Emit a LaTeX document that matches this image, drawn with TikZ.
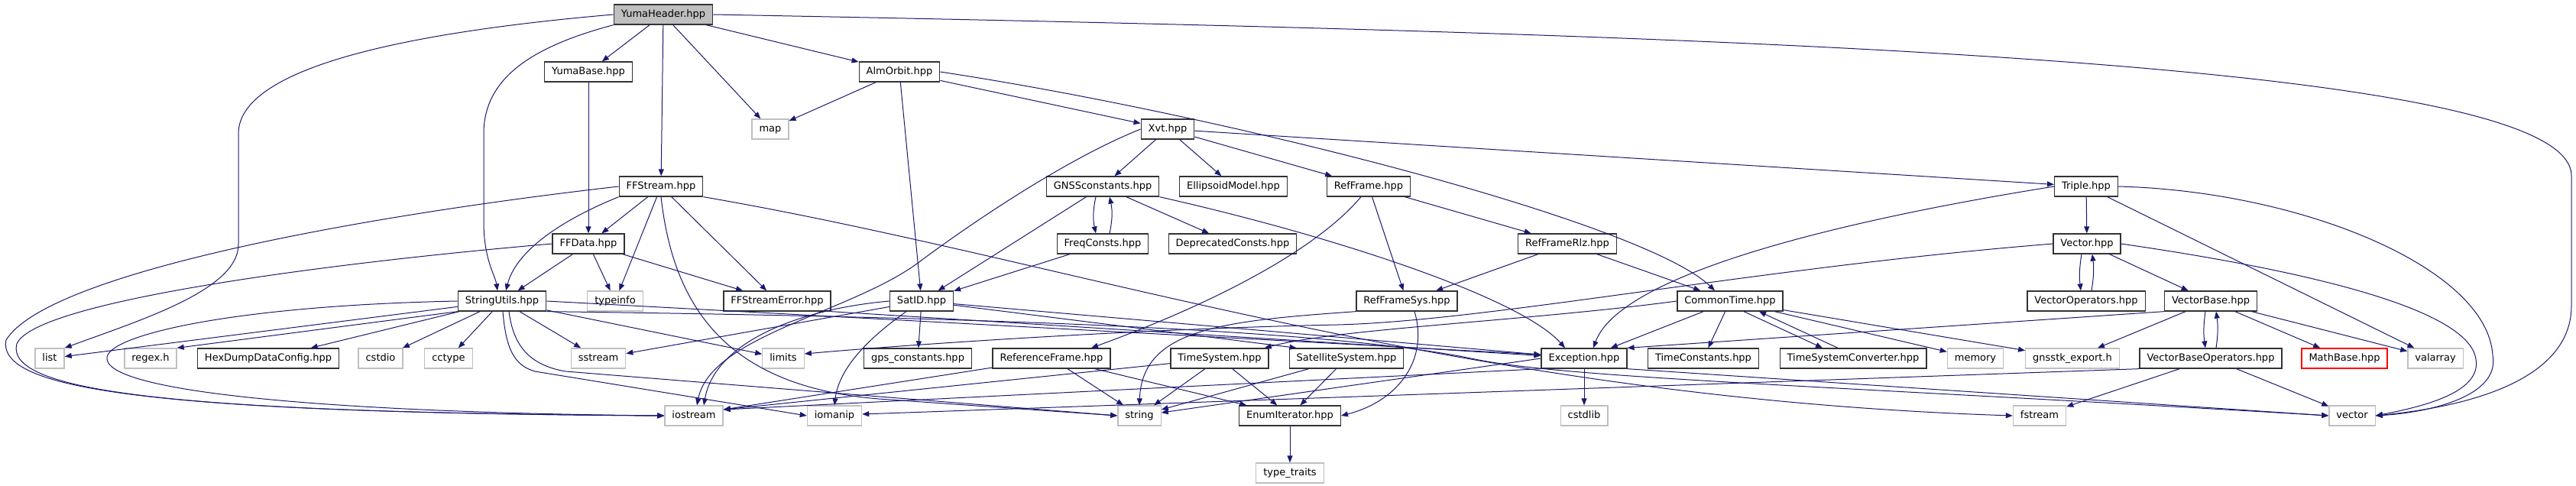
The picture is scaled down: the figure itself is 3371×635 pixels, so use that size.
\documentclass[tikz,border=0pt]{standalone}
\usepackage{fontspec}
\setmainfont{DejaVu Sans}
\usetikzlibrary{arrows.meta}
\definecolor{edgeblue}{HTML}{191970}
\definecolor{boxgrey}{HTML}{BFBFBF}

\begin{document}
\begin{tikzpicture}[x=1pt,y=-1pt,
  hdr/.style={draw=black!80,line width=1.3pt,fill=white,minimum height=26pt,inner xsep=9.5pt,inner ysep=0pt,
    font=\fontsize{13}{15}\selectfont,text height=9.5pt,text depth=2.5pt},
  sys/.style={hdr,draw=boxgrey},
  root/.style={hdr,fill=boxgrey},
  nodoc/.style={hdr,draw=red},
  dep/.style={draw=edgeblue,line width=1pt,-{Triangle[length=9pt,width=7pt]}}]
  \useasboundingbox (0,0) rectangle (3371,635);

  \node[root] (yh) at (868,19) {YumaHeader.hpp};
  \node[hdr] (yb) at (770,94) {YumaBase.hpp};
  \node[hdr] (alm) at (1177,94) {AlmOrbit.hpp};
  \node[sys] (map) at (1008,169) {map};
  \node[hdr] (xvt) at (1528,169) {Xvt.hpp};
  \node[hdr] (ffs) at (865,244) {FFStream.hpp};
  \node[hdr] (gnssc) at (1443,244) {GNSSconstants.hpp};
  \node[hdr] (ellip) at (1614,244) {EllipsoidModel.hpp};
  \node[hdr] (rf) at (1791,244) {RefFrame.hpp};
  \node[hdr] (tri) at (2730,244) {Triple.hpp};
  \node[hdr] (ffd) at (770,319) {FFData.hpp};
  \node[hdr] (freq) at (1443,319) {FreqConsts.hpp};
  \node[hdr] (depr) at (1613,319) {DeprecatedConsts.hpp};
  \node[hdr] (rlz) at (2051,319) {RefFrameRlz.hpp};
  \node[hdr] (vec) at (2731,319) {Vector.hpp};
  \node[hdr] (su) at (657,394) {StringUtils.hpp};
  \node[sys] (tinfo) at (805,394) {typeinfo};
  \node[hdr] (ffse) at (1017,394) {FFStreamError.hpp};
  \node[hdr] (sat) at (1206,394) {SatID.hpp};
  \node[hdr] (rfs) at (1841,394) {RefFrameSys.hpp};
  \node[hdr] (ct) at (2264,394) {CommonTime.hpp};
  \node[hdr] (vops) at (2730,394) {VectorOperators.hpp};
  \node[hdr] (vb) at (2893,394) {VectorBase.hpp};
  \node[sys] (list) at (65,469) {list};
  \node[sys] (rgx) at (197,469) {regex.h};
  \node[hdr] (hex) at (351,469) {HexDumpDataConfig.hpp};
  \node[sys] (cstdio) at (498,469) {cstdio};
  \node[sys] (cctype) at (587,469) {cctype};
  \node[sys] (sstr) at (783,469) {sstream};
  \node[sys] (lim) at (1025,469) {limits};
  \node[hdr] (gps) at (1201,469) {gps\_constants.hpp};
  \node[hdr] (rfe) at (1376,469) {ReferenceFrame.hpp};
  \node[hdr] (ts) at (1596,469) {TimeSystem.hpp};
  \node[hdr] (ss) at (1762,469) {SatelliteSystem.hpp};
  \node[hdr] (exc) at (2073,469) {Exception.hpp};
  \node[hdr] (tc) at (2229,469) {TimeConstants.hpp};
  \node[hdr] (tsc) at (2425,469) {TimeSystemConverter.hpp};
  \node[sys] (mem) at (2585,469) {memory};
  \node[sys] (gexp) at (2712,469) {gnsstk\_export.h};
  \node[hdr] (vbo) at (2893,469) {VectorBaseOperators.hpp};
  \node[nodoc] (mb) at (3068,469) {MathBase.hpp};
  \node[sys] (varr) at (3187,469) {valarray};
  \node[sys] (io) at (908,544) {iostream};
  \node[sys] (iom) at (1092,544) {iomanip};
  \node[sys] (str) at (1491,544) {string};
  \node[hdr] (enum) at (1688,544) {EnumIterator.hpp};
  \node[sys] (cstdlib) at (2073,544) {cstdlib};
  \node[sys] (fst) at (2669,544) {fstream};
  \node[sys] (vctr) at (3078,544) {vector};
  \node[sys] (tt) at (1688,619) {type\_traits};

  \draw[dep] (yh.west) .. controls (500,45) and (312,95) .. (312,175) -- (312,320) .. controls (312,380) and (180,420) .. (list.north east);
  \draw[dep] (yh.south west) .. controls (700,60) and (633,100) .. (633,175) -- (633,290) .. controls (633,340) and (648,360) .. ([xshift=-6pt]su.north);
  \draw[dep] (yh.east) .. controls (2300,45) and (3365,80) .. (3365,230) -- (3365,400) .. controls (3365,490) and (3250,530) .. (vctr.east);
  \draw[dep] (yh) -- (yb);
  \draw[dep] (yh) -- (ffs);
  \draw[dep] (yh) -- (map);
  \draw[dep] (yh) -- (alm);
  \draw[dep] (yb) -- (ffd);
  \draw[dep] (alm) -- (map);
  \draw[dep] (alm) -- (sat);
  \draw[dep] (alm) -- (xvt);
  \draw[dep] (alm.east) .. controls (1600,150) and (2150,290) .. ([xshift=-20pt]ct.north);
  \draw[dep] (ffs) -- (ffd);
  \draw[dep] (ffs.south west) .. controls (730,290) and (675,330) .. ([xshift=5pt]su.north);
  \draw[dep] (ffs) -- (tinfo);
  \draw[dep] (ffs) -- (ffse);
  \draw[dep] (ffs.south) .. controls (880,390) and (940,505) .. (1150,522) -- (str.west);
  \draw[dep] (ffs.west) .. controls (450,285) and (60,360) .. (8,445) .. controls (-5,510) and (200,540) .. (io.west);
  \draw[dep] (ffs.south east) .. controls (1400,340) and (1900,520) .. (fst.west);
  \draw[dep] (ffd) -- (su);
  \draw[dep] (ffd) -- (tinfo);
  \draw[dep] (ffd) -- (ffse);
  \draw[dep] (ffd.west) .. controls (420,345) and (45,395) .. (22,450) .. controls (5,515) and (250,540) .. (io.west);
  \draw[dep] (xvt.west) .. controls (1390,210) and (1260,300) .. (1200,345) .. controls (1110,410) and (930,440) .. ([xshift=4pt]io.north);
  \draw[dep] (xvt) -- (gnssc);
  \draw[dep] (xvt) -- (ellip);
  \draw[dep] (xvt) -- (rf);
  \draw[dep] (xvt) -- (tri);
  \draw[dep] ([xshift=-9pt]gnssc.south) to[bend right=12] ([xshift=-9pt]freq.north);
  \draw[dep] ([xshift=9pt]freq.north) to[bend right=12] ([xshift=9pt]gnssc.south);
  \draw[dep] (gnssc) -- (depr);
  \draw[dep] (gnssc) -- (sat);
  \draw[dep] (gnssc.south east) .. controls (1750,310) and (1990,390) .. ([xshift=-25pt]exc.north);
  \draw[dep] (freq) -- (sat);
  \draw[dep] (rf) -- (rfs);
  \draw[dep] (rf) -- (rlz);
  \draw[dep] ([xshift=-10pt]rf.south) .. controls (1720,330) and (1580,400) .. ([xshift=52pt]rfe.north);
  \draw[dep] (rlz) -- (rfs);
  \draw[dep] (rlz) -- (ct);
  \draw[dep] (tri) -- (vec);
  \draw[dep] (tri) -- (varr);
  \draw[dep] (tri.east) .. controls (3010,250) and (3255,350) .. (3262,465) .. controls (3272,520) and (3175,540) .. (vctr.east);
  \draw[dep] (tri.west) .. controls (2400,290) and (2120,360) .. ([xshift=12pt]exc.north);
  \draw[dep] ([xshift=-7pt]vec.south) to[bend right=8] ([xshift=-7pt]vops.north);
  \draw[dep] ([xshift=7pt]vops.north) to[bend right=8] ([xshift=7pt]vec.south);
  \draw[dep] (vec) -- (vb);
  \draw[dep] (vec.east) .. controls (2990,350) and (3230,400) .. (3240,470) .. controls (3248,515) and (3165,533) .. (vctr.east);
  \draw[dep] (vec.west) .. controls (2300,350) and (1950,420) .. (1750,425) .. controls (1500,430) and (1200,450) .. ([yshift=6pt]lim.east);
  \draw[dep] (su) -- (list);
  \draw[dep] (su.south west) -- (rgx.north east);
  \draw[dep] (su) -- (hex);
  \draw[dep] (su) -- (cstdio);
  \draw[dep] (su) -- (cctype);
  \draw[dep] (su.west) .. controls (300,400) and (135,440) .. (140,470) .. controls (145,515) and (450,540) .. (io.west);
  \draw[dep] ([xshift=1pt]su.south) .. controls (662,455) and (672,478) .. (700,486) -- (iom.west);
  \draw[dep] ([xshift=9pt]su.south) .. controls (672,455) and (695,478) .. (740,486) -- (str.west);
  \draw[dep] (su) -- (sstr);
  \draw[dep] (su) -- (lim);
  \draw[dep] (su.east) -- ([yshift=5pt]exc.west);
  \draw[dep] (su.south east) .. controls (1300,415) and (1750,432) .. (1930,470) .. controls (2050,495) and (2400,505) .. (vctr.west);
  \draw[dep] (ffse.south east) -- (exc);
  \draw[dep] (sat) -- (sstr);
  \draw[dep] (sat.west) .. controls (1040,405) and (935,450) .. ([xshift=13pt]io.north);
  \draw[dep] ([xshift=-20pt]sat.south) .. controls (1140,440) and (1098,480) .. (iom.north);
  \draw[dep] (sat) -- (gps);
  \draw[dep] (sat) -- ([xshift=10pt]ss.north west);
  \draw[dep] (sat) -- (exc);
  \draw[dep] (rfs.south west) .. controls (1600,420) and (1495,430) .. (str.north);
  \draw[dep] ([xshift=10pt]rfs.south) .. controls (1870,470) and (1830,525) .. (enum.east);
  \draw[dep] (ct) -- (exc);
  \draw[dep] (ct) -- (tc);
  \draw[dep] ([xshift=18pt]ct.south) -- ([xshift=-40pt]tsc.north);
  \draw[dep] ([xshift=-20pt]tsc.north) -- ([xshift=38pt]ct.south);
  \draw[dep] (ct) -- (mem);
  \draw[dep] (ct) -- (gexp);
  \draw[dep] (ct.west) .. controls (2000,420) and (1750,430) .. ([xshift=-6pt]ts.north east);
  \draw[dep] (vb.south west) -- (exc.north east);
  \draw[dep] (vb) -- (gexp);
  \draw[dep] ([xshift=-7pt]vb.south) to[bend right=8] ([xshift=-7pt]vbo.north);
  \draw[dep] ([xshift=7pt]vbo.north) to[bend right=8] ([xshift=7pt]vb.south);
  \draw[dep] (vb) -- (mb);
  \draw[dep] (vb) -- (varr);
  \draw[dep] (rfe) -- ([yshift=8pt]io.east);
  \draw[dep] (rfe) -- (str);
  \draw[dep] (rfe) -- (enum);
  \draw[dep] (ts) -- ([yshift=8pt]io.east);
  \draw[dep] (ts) -- (str);
  \draw[dep] (ts) -- (enum);
  \draw[dep] (ss) -- (str);
  \draw[dep] (ss) -- (enum);
  \draw[dep] (exc) -- (cstdlib);
  \draw[dep] (exc.west) -- ([yshift=4pt]str.east);
  \draw[dep] (exc.south west) -- ([yshift=8pt]io.east);
  \draw[dep] (exc.south east) -- (vctr.west);
  \draw[dep] (vbo.south west) -- ([yshift=2pt]iom.east);
  \draw[dep] (vbo) -- (fst);
  \draw[dep] (vbo) -- (vctr);
  \draw[dep] (enum) -- (tt);
\end{tikzpicture}
\end{document}
